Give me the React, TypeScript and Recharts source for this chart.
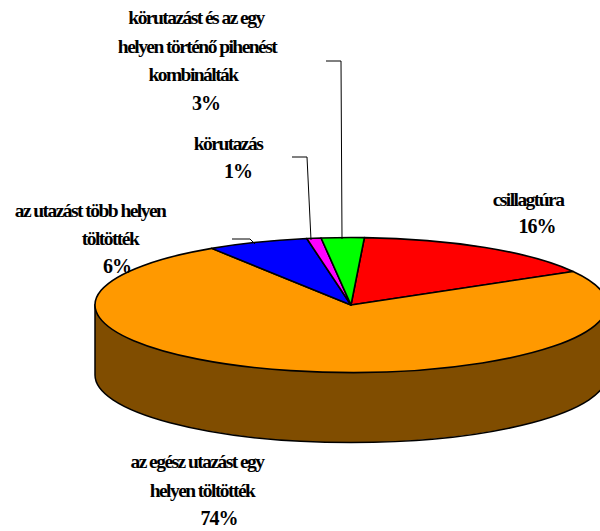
import React from "react";
import { PieChart, Pie, Cell } from "recharts";

const categories = [
  "csillagtúra",
  "az egész utazást egy helyen töltötték",
  "az utazást több helyen töltötték",
  "körutazás",
  "körutazást és az egy helyen történő pihenést kombinálták",
];
const values = [15.9, 74.2, 6.4, 0.9, 2.7];
const percentLabels = ["16%", "74%", "6%", "1%", "3%"];
const categoryLines = [
  ["csillagtúra"],
  ["az egész utazást egy", "helyen töltötték"],
  ["az utazást több helyen", "töltötték"],
  ["körutazás"],
  ["körutazást és az egy", "helyen történő pihenést", "kombinálták"],
];
const colors = ["#FF0000", "#FF9900", "#0000FF", "#FF00FF", "#00FF00"];
const WALL_COLOR = "#804D00";

const W = 600, H = 531;
const CX = 351, CY = 305, RX = 256;
const SQUASH = 67.5 / 256;
const DEPTH = 70;
const WALL_INDEX = 1;

// label layout: per line [centre x, baseline y]
const labelLayout: number[][][] = [
  [[528, 206], [537, 233]],
  [[197, 468], [202, 497], [219, 525]],
  [[90, 217], [110, 245], [117, 273]],
  [[228, 150], [238, 178]],
  [[196, 24], [197, 53], [193, 81], [206, 110]],
];
const leaderLayout: string[] = [
  "",
  "",
  "232,239 250,239 255,244",
  "292,157 307,157 311,240",
  "326,61 341,61 342,239",
];

const data = categories.map((name, i) => ({ name, value: values[i], fill: colors[i], index: i }));

function EllipseSector(props: any) {
  const { cx, cy, outerRadius: r, startAngle, endAngle, fill, payload } = props;
  const ry = r * SQUASH;
  const pt = (a: number) => {
    const t = (a * Math.PI) / 180;
    return [cx + r * Math.cos(t), cy - ry * Math.sin(t)];
  };
  const [x1, y1] = pt(startAngle);
  const [x2, y2] = pt(endAngle);
  const large = Math.abs(endAngle - startAngle) > 180 ? 1 : 0;
  const idx = payload?.index ?? props.index;
  return (
    <g>
      {idx === WALL_INDEX && (
        <path
          d={`M${cx - r},${cy} L${cx - r},${cy + DEPTH} A${r},${ry} 0 0 0 ${cx + r},${cy + DEPTH} L${cx + r},${cy} Z`}
          fill={WALL_COLOR}
          stroke="#000"
          strokeWidth={1.5}
        />
      )}
      <path
        d={`M${cx},${cy} L${x1},${y1} A${r},${ry} 0 ${large} 1 ${x2},${y2} Z`}
        fill={fill}
        stroke="#000"
        strokeWidth={1.6}
        strokeLinejoin="round"
      />
    </g>
  );
}

function SliceLabel(props: any) {
  const i = props.index as number;
  const lines = [...categoryLines[i], percentLabels[i]];
  return (
    <g>
      {leaderLayout[i] && <polyline points={leaderLayout[i]} fill="none" stroke="#000" strokeWidth={1} />}
      {lines.map((t, k) => (
        <text
          key={k}
          x={labelLayout[i][k][0]}
          y={labelLayout[i][k][1]}
          textAnchor="middle"
          fontFamily="'Liberation Serif', serif"
          fontWeight="bold"
          fontSize={k === lines.length - 1 ? 20 : 19.5}
          letterSpacing={k === lines.length - 1 ? -1 : -1.55}
          fill="#000"
        >
          {t}
        </text>
      ))}
    </g>
  );
}

export default function App() {
  return (
    <div style={{ position: "absolute", left: 0, top: 0, width: W, height: H, background: "#fff" }}>
      <PieChart width={W} height={H} margin={{ top: 0, right: 0, bottom: 0, left: 0 }}>
        <Pie
          data={data}
          dataKey="value"
          nameKey="name"
          cx={CX}
          cy={CY}
          innerRadius={0}
          outerRadius={RX}
          startAngle={87}
          endAngle={-273}
          paddingAngle={0}
          isAnimationActive={false}
          shape={EllipseSector}
          label={SliceLabel}
          labelLine={false}
        >
          {data.map((d) => (
            <Cell key={d.name} fill={d.fill} />
          ))}
        </Pie>
      </PieChart>
    </div>
  );
}
